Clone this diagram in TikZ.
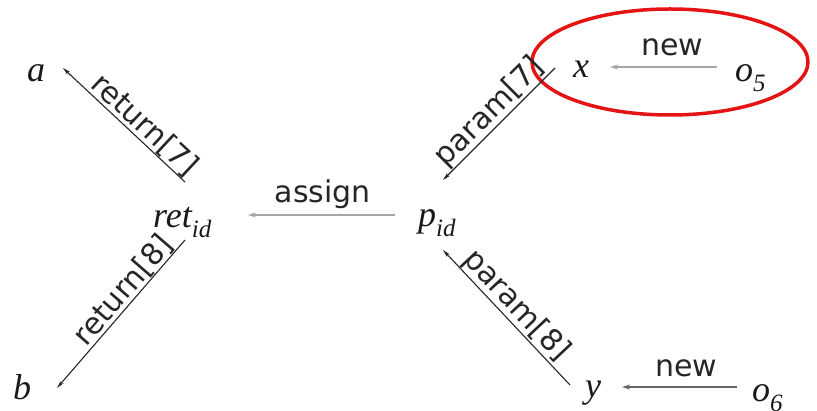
\documentclass[tikz,border=0pt]{standalone}
\usepackage{fontspec}
\setmainfont{Liberation Serif}
\newfontfamily\lblfont{DejaVu Sans}
\usetikzlibrary{arrows.meta}
\newcommand{\msub}[2]{\textit{#1}\raisebox{-10pt}{\fontsize{25}{25}\selectfont\textit{#2}}}
\definecolor{hlred}{RGB}{228,20,20}
\tikzset{
  var/.style={inner sep=0pt, anchor=base west, font=\fontsize{36}{40}\selectfont\itshape, text=black!90},
  lbl/.style={font=\lblfont\fontsize{30}{33}\selectfont, text=black!85, inner sep=0pt},
  garr/.style={draw=black!35, line width=2.2pt, -{Stealth[length=8pt,width=5pt]}},
  darr/.style={draw=black!85, line width=1.1pt, -{Stealth[length=8pt,width=4pt]}},
  marr/.style={draw=black!60, line width=1.5pt, -{Stealth[length=8pt,width=5pt]}}
}
\begin{document}
\begin{tikzpicture}[x=1pt,y=-1pt]
\useasboundingbox (0,0) rectangle (817,411);
% nodes
\node[var] (a) at (27,82) {a};
\node[var] (b) at (13,400) {b};
\node[var] (ret) at (153,228) {\msub{ret}{id}};
\node[var] (p) at (418,227) {\msub{p}{id}};
\node[var] (x) at (573,78) {x};
\node[var] (o5) at (735,82) {\msub{o}{5}};
\node[var] (y) at (585,398) {y};
\node[var] (o6) at (752,402) {\msub{o}{6}};
% highlight
\draw[hlred, line width=3.5pt] (670,62) ellipse [x radius=138pt, y radius=53pt];
% edges
\draw[garr] ([shift={(-18,-15)}]o5.base west) -- ([shift={(37,-11)}]x.base west)
  node[lbl, pos=0.42, anchor=base, yshift=11pt] {new};
\draw[marr] ([shift={(-15,-15)}]o6.base west) -- ([shift={(37,-11)}]y.base west)
  node[lbl, pos=0.44, anchor=base, yshift=10pt] {new};
\draw[garr] ([shift={(-23,-12)}]p.base west) -- ([shift={(95,-13)}]ret.base west)
  node[lbl, pos=0.49, anchor=base, yshift=12pt] {assign};
\draw[darr] ([shift={(32,-46)}]ret.base west) -- ([shift={(36,-14)}]a.base west)
  node[lbl, pos=0.41, sloped, anchor=south] {return[7]};
\draw[darr] ([shift={(32,12)}]ret.base west) -- ([shift={(44,-12)}]b.base west)
  node[lbl, pos=0.40, sloped, anchor=south] {return[8]};
\draw[darr] ([shift={(-18,-10)}]x.base west) -- ([shift={(25,-47)}]p.base west)
  node[lbl, pos=0.49, sloped, anchor=south] {param[7]};
\draw[darr] ([shift={(-15,-13)}]y.base west) -- ([shift={(25,23)}]p.base west)
  node[lbl, pos=0.51, sloped, anchor=south] {param[8]};
\end{tikzpicture}
\end{document}
